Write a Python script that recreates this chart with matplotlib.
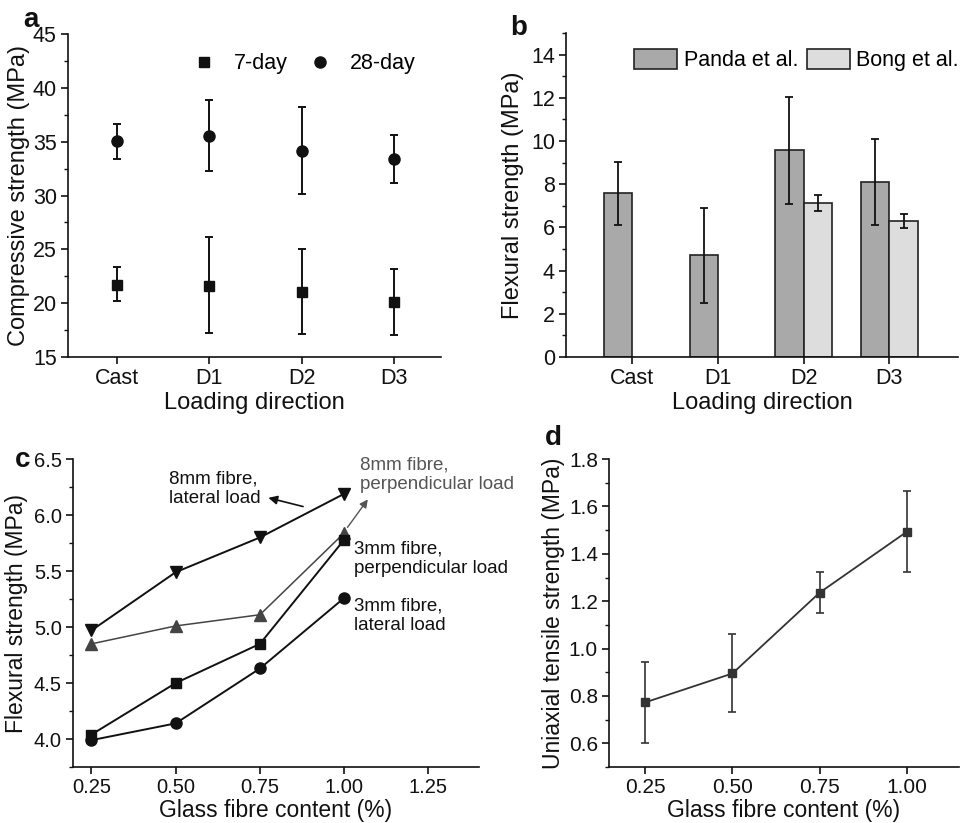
import matplotlib
matplotlib.use("Agg")
import matplotlib.pyplot as plt
from matplotlib.ticker import MultipleLocator, FormatStrFormatter

plt.rcParams['font.family'] = ['Liberation Sans', 'DejaVu Sans']

# ---- data ----
directions = ["Cast", "D1", "D2", "D3"]

# (a) compressive strength
comp_7 = [21.7, 21.6, 21.05, 20.1]
comp_7_lo = [20.2, 17.2, 17.15, 17.0]
comp_7_hi = [23.35, 26.1, 25.05, 23.15]
comp_28 = [35.05, 35.5, 34.15, 33.35]
comp_28_lo = [33.4, 32.25, 30.15, 31.15]
comp_28_hi = [36.65, 38.85, 38.2, 35.65]

# (b) flexural strength (None = no bar)
panda = [7.57, 4.71, 9.59, 8.08]
panda_lo = [6.1, 2.48, 7.09, 6.1]
panda_hi = [9.04, 6.92, 12.06, 10.1]
bong = [None, None, 7.11, 6.30]
bong_lo = [None, None, 6.74, 5.95]
bong_hi = [None, None, 7.50, 6.61]

# (c) flexural strength vs fibre content
fibre = [0.25, 0.50, 0.75, 1.00]
lat_8mm = [4.97, 5.49, 5.80, 6.19]
perp_8mm = [4.85, 5.01, 5.11, 5.84]
perp_3mm = [4.04, 4.50, 4.85, 5.78]
lat_3mm = [3.99, 4.14, 4.63, 5.26]

# (d) uniaxial tensile strength
tensile = [0.773, 0.895, 1.236, 1.493]
tensile_lo = [0.603, 0.731, 1.149, 1.323]
tensile_hi = [0.945, 1.061, 1.323, 1.665]

INK = '#111111'
GREY = '#555555'


def errs(vals, lo, hi):
    # asymmetric error bars from low/high ends
    return [[v - l for v, l in zip(vals, lo)], [h - v for v, h in zip(vals, hi)]]


def style(ax, lab=15.5):
    for s in ['top', 'right']:
        ax.spines[s].set_visible(False)
    for s in ['left', 'bottom']:
        ax.spines[s].set_linewidth(1.2)
        ax.spines[s].set_color(INK)
    ax.tick_params(which='major', direction='out', length=5, width=1.2,
                   labelsize=lab, colors=INK, pad=3)
    ax.tick_params(which='minor', direction='out', length=3, width=1.0, colors=INK)


fig = plt.figure(figsize=(9.6, 8.23), dpi=100)

# ---------- (a) ----------
ax = fig.add_axes([0.0708, 0.5662, 0.3885, 0.3925])
xs = [1, 2, 3, 4]
ax.errorbar(xs, comp_7, yerr=errs(comp_7, comp_7_lo, comp_7_hi),
            fmt='s', color=INK, ms=7, capsize=3, elinewidth=1.4, capthick=1.4,
            label='7-day')
ax.errorbar(xs, comp_28, yerr=errs(comp_28, comp_28_lo, comp_28_hi),
            fmt='o', color=INK, ms=8, capsize=3, elinewidth=1.4, capthick=1.4,
            label='28-day')
ax.set_xlim(0.47, 4.51)
ax.set_ylim(15, 45)
ax.set_xticks(xs)
ax.set_xticklabels(directions)
ax.yaxis.set_major_locator(MultipleLocator(5))
ax.yaxis.set_minor_locator(MultipleLocator(2.5))
style(ax)
ax.set_xlabel('Loading direction', fontsize=17, color=INK, labelpad=2)
ax.set_ylabel('Compressive strength (MPa)', fontsize=17, color=INK, labelpad=2)
h, l = ax.get_legend_handles_labels()
h = [x[0] for x in h]
ax.legend(h, l, loc='upper right', bbox_to_anchor=(0.985, 1.0), ncol=2,
          frameon=False, fontsize=15.5, handletextpad=0.9, columnspacing=1.0,
          handlelength=1.0)

# ---------- (b) ----------
ax = fig.add_axes([0.5896, 0.5662, 0.4083, 0.3937])
w = 0.33
px = [x - w / 2 for x in xs]
ax.bar(px, panda, width=w, color='#a9a9a9', edgecolor='#222222', linewidth=1.2,
       label='Panda et al.')
ax.errorbar(px, panda, yerr=errs(panda, panda_lo, panda_hi),
            fmt='none', ecolor=INK, capsize=3, elinewidth=1.3, capthick=1.3)
keep = [i for i, v in enumerate(bong) if v is not None]
bx = [xs[i] + w / 2 for i in keep]
bv = [bong[i] for i in keep]
ax.bar(bx, bv, width=w, color='#dddddd', edgecolor='#222222', linewidth=1.2,
       label='Bong et al.')
ax.errorbar(bx, bv, yerr=errs(bv, [bong_lo[i] for i in keep], [bong_hi[i] for i in keep]),
            fmt='none', ecolor=INK, capsize=3, elinewidth=1.3, capthick=1.3)
ax.set_xlim(0.23, 4.8)
ax.set_ylim(0, 15)
ax.set_xticks(xs)
ax.set_xticklabels(directions)
ax.yaxis.set_major_locator(MultipleLocator(2))
ax.yaxis.set_minor_locator(MultipleLocator(1))
style(ax)
ax.set_xlabel('Loading direction', fontsize=17, color=INK, labelpad=2)
ax.set_ylabel('Flexural strength (MPa)', fontsize=17, color=INK, labelpad=5)
ax.legend(loc='upper right', bbox_to_anchor=(1.035, 0.99), ncol=2, frameon=False,
          fontsize=15.5, handlelength=2.0, handleheight=1.05, handletextpad=0.3,
          columnspacing=0.4, borderaxespad=0.2)

# ---------- (c) ----------
ax = fig.add_axes([0.0760, 0.0680, 0.4229, 0.3742])
ax.plot(fibre, lat_8mm, marker='v', color=INK, lw=1.4, ms=9)
ax.plot(fibre, perp_8mm, marker='^', color='#444444', lw=1.1, ms=9)
ax.plot(fibre, perp_3mm, marker='s', color=INK, lw=1.4, ms=7.5)
ax.plot(fibre, lat_3mm, marker='o', color=INK, lw=1.4, ms=8)
ax.set_xlim(0.195, 1.40)
ax.set_ylim(3.75, 6.5)
ax.set_xticks([0.25, 0.50, 0.75, 1.00, 1.25])
ax.xaxis.set_major_formatter(FormatStrFormatter('%.2f'))
ax.yaxis.set_major_locator(MultipleLocator(0.5))
ax.yaxis.set_minor_locator(MultipleLocator(0.25))
ax.yaxis.set_major_formatter(FormatStrFormatter('%.1f'))
style(ax, lab=14.5)
ax.set_xlabel('Glass fibre content (%)', fontsize=16.5, color=INK, labelpad=1)
ax.set_ylabel('Flexural strength (MPa)', fontsize=16.5, color=INK, labelpad=4)

# labels and arrows
ax.annotate('', xy=(0.767, 6.16), xytext=(0.886, 6.07),
            arrowprops=dict(arrowstyle='-|>', color=INK, lw=1.2, mutation_scale=13))
ax.text(0.48, 6.235, '8mm fibre,\nlateral load', fontsize=13.5, color=INK,
        ha='left', va='center', linespacing=1.25)
ax.annotate('', xy=(1.075, 6.16), xytext=(1.005, 5.87),
            arrowprops=dict(arrowstyle='-|>', color=GREY, lw=1.0, mutation_scale=12))
ax.text(1.048, 6.36, '8mm fibre,\nperpendicular load', fontsize=13.5,
        color=GREY, ha='left', va='center', linespacing=1.25)
ax.text(1.028, 5.61, '3mm fibre,\nperpendicular load', fontsize=13.5, color=INK,
        ha='left', va='center', linespacing=1.25)
ax.text(1.028, 5.10, '3mm fibre,\nlateral load', fontsize=13.5, color=INK,
        ha='left', va='center', linespacing=1.25)

# ---------- (d) ----------
ax = fig.add_axes([0.6344, 0.0680, 0.3646, 0.3742])
ax.errorbar(fibre, tensile, yerr=errs(tensile, tensile_lo, tensile_hi),
            fmt='-s', color='#333333', lw=1.3, ms=6, capsize=3, elinewidth=1.2,
            capthick=1.2)
ax.set_xlim(0.146, 1.15)
ax.set_ylim(0.5, 1.8)
ax.set_xticks(fibre)
ax.xaxis.set_major_formatter(FormatStrFormatter('%.2f'))
ax.yaxis.set_major_locator(MultipleLocator(0.2))
ax.yaxis.set_minor_locator(MultipleLocator(0.1))
ax.yaxis.set_major_formatter(FormatStrFormatter('%.1f'))
style(ax, lab=15)
ax.set_xlabel('Glass fibre content (%)', fontsize=16.5, color=INK, labelpad=1)
ax.set_ylabel('Uniaxial tensile strength (MPa)', fontsize=16.5, color=INK, labelpad=3)

# panel letters
for x, y, t in [(0.024, 0.967, 'a'), (0.531, 0.957, 'b'),
                (0.016, 0.4326, 'c'), (0.568, 0.459, 'd')]:
    fig.text(x, y, t, fontsize=20, fontweight='bold', color=INK, va='baseline')

fig.savefig('out.png', dpi=100)
